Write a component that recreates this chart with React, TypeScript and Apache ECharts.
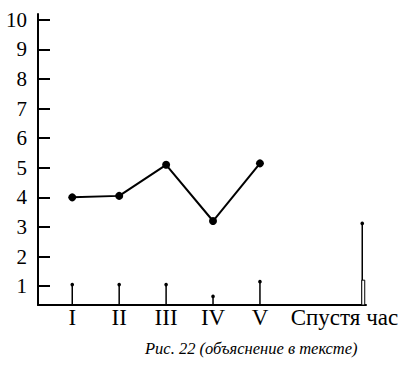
import React, { useEffect, useRef } from "react";
import * as echarts from "echarts";

const categories = ["I", "II", "III", "IV", "V"];
const positions = [1, 2, 3, 4, 5];
const values = [4.0, 4.05, 5.1, 3.2, 5.15];
const stemValues = [1.05, 1.05, 1.05, 0.65, 1.15];
const hourLabel = "Спустя час";
const hourPosition = 7.18;
const hourLabelPosition = 6.8;
const hourValue = 3.12;
const hourThickValue = 1.2;
const yTicks = [1, 2, 3, 4, 5, 6, 7, 8, 9, 10];
const caption = "Рис. 22 (объяснение в тексте)";

const Y_MIN = 0.36;
const FONT = "'Liberation Serif', 'DejaVu Serif', serif";

export default function App() {
  const ref = useRef<HTMLDivElement>(null);
  useEffect(() => {
    if (!ref.current) return;
    const chart = echarts.init(ref.current, null, { renderer: "svg" });
    const labelMap: Record<string, string> = {};
    positions.forEach((p, i) => (labelMap[String(p)] = categories[i]));
    labelMap[String(hourLabelPosition)] = hourLabel;

    const stemData = positions.map((p, i) => [p, stemValues[i], 0]);
    stemData.push([hourPosition, hourValue, hourThickValue]);

    chart.setOption({
      animation: false,
      backgroundColor: "#fff",
      grid: { left: 38, right: 43, top: 14, bottom: 61, containLabel: false },
      xAxis: {
        type: "value",
        min: 0.27,
        max: 7.26,
        splitLine: { show: false },
        axisLine: { show: true, lineStyle: { color: "#000", width: 2 } },
        axisTick: { show: false },
        axisLabel: {
          customValues: [...positions, hourLabelPosition],
          formatter: (v: number) => labelMap[String(v)] ?? "",
          color: "#000",
          fontFamily: FONT,
          fontSize: 23,
          margin: 1,
        },
      },
      yAxis: {
        type: "value",
        min: Y_MIN,
        max: 10.2,
        splitLine: { show: false },
        axisLine: { show: true, lineStyle: { color: "#000", width: 2 } },
        axisTick: {
          show: true,
          inside: true,
          length: 12,
          customValues: yTicks,
          lineStyle: { color: "#000", width: 2 },
        },
        axisLabel: {
          customValues: yTicks,
          color: "#000",
          fontFamily: FONT,
          fontSize: 21,
          margin: 11,
        },
      },
      graphic: [
        {
          type: "text",
          left: 145,
          top: 340,
          style: {
            text: caption,
            font: `italic 16.5px ${FONT}`,
            fill: "#000",
          },
        },
      ],
      series: [
        {
          type: "custom",
          data: stemData,
          renderItem: (params: any, api: any) => {
            const x = api.value(0);
            const y = api.value(1);
            const t = api.value(2);
            const top = api.coord([x, y]);
            const base = api.coord([x, Y_MIN]);
            const children: any[] = [
              {
                type: "line",
                shape: { x1: top[0], y1: top[1], x2: base[0], y2: base[1] },
                style: { stroke: "#000", lineWidth: 1.5 },
              },
              {
                type: "circle",
                shape: { cx: top[0], cy: top[1], r: 1.8 },
                style: { fill: "#000" },
              },
            ];
            if (t > 0) {
              const tp = api.coord([x, t]);
              children.push({
                type: "rect",
                shape: { x: tp[0] - 0.5, y: tp[1], width: 3, height: base[1] - tp[1] },
                style: { fill: "#fff", stroke: "#000", lineWidth: 1 },
              });
            }
            return { type: "group", children };
          },
        },
        {
          type: "line",
          data: positions.map((p, i) => [p, values[i]]),
          symbol: "circle",
          symbolSize: 8,
          itemStyle: { color: "#000" },
          lineStyle: { color: "#000", width: 2 },
        },
      ],
    });
    return () => chart.dispose();
  }, []);
  return (
    <div
      ref={ref}
      style={{ position: "fixed", left: 0, top: 0, width: 409, height: 366, background: "#fff" }}
    />
  );
}
